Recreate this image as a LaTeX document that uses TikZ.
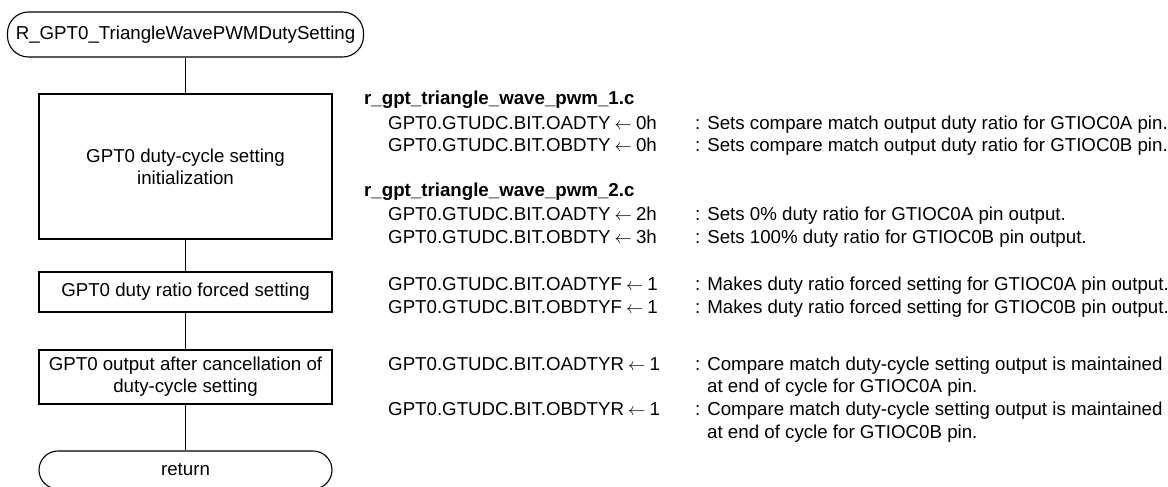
\documentclass[tikz,border=0pt]{standalone}
\usepackage{fontspec}
\setmainfont{Liberation Sans}
\newcommand{\getsarrow}{\hspace{0.22em}$\leftarrow$\hspace{0.22em}}
\begin{document}
\begin{tikzpicture}[x=1pt,y=-1pt,
  every node/.style={font=\fontsize{18.7}{21.8}\selectfont, inner sep=0pt},
  proc/.style={draw, line width=1.1pt, minimum width=293pt, align=center},
  term/.style={draw, line width=1.1pt, align=center},
  txt/.style={anchor=base west},
  hdr/.style={anchor=base west, font=\fontsize{18.7}{21.8}\selectfont\bfseries},
  link/.style={line width=1.1pt}]
\useasboundingbox (0,0) rectangle (1168,487);

% flowchart
\node[term, rounded corners=21pt, minimum width=356pt, minimum height=45pt] (start) at (185.5,34.5) {R\_GPT0\_TriangleWavePWMDutySetting};
\node[proc, minimum height=145pt] (b1) at (185.5,166.5) {GPT0 duty-cycle setting\\initialization};
\node[proc, minimum height=40pt] (b2) at (185.5,292) {GPT0 duty ratio forced setting};
\node[proc, minimum height=54pt] (b3) at (185.5,377) {GPT0 output after cancellation of\\duty-cycle setting};
\node[term, rounded corners=19pt, minimum width=293pt, minimum height=38pt] (ret) at (185.5,470) {return};

\draw[link] (start.south) -- (b1.north);
\draw[link] (b1.south) -- (b2.north);
\draw[link] (b2.south) -- (b3.north);
\draw[link] (b3.south) -- (ret.north);

% right-hand text
\node[hdr] (h1) at (364,105) {r\_gpt\_triangle\_wave\_pwm\_1.c};
\node[txt] (c1) at (388,129) {GPT0.GTUDC.BIT.OADTY\getsarrow0h};
\node[txt] (d1) at (695,129) {: Sets compare match output duty ratio for GTIOC0A pin.};
\node[txt] (c2) at (388,151.7) {GPT0.GTUDC.BIT.OBDTY\getsarrow0h};
\node[txt] (d2) at (695,151.7) {: Sets compare match output duty ratio for GTIOC0B pin.};

\node[hdr] (h2) at (364,196.7) {r\_gpt\_triangle\_wave\_pwm\_2.c};
\node[txt] (c3) at (388,220) {GPT0.GTUDC.BIT.OADTY\getsarrow2h};
\node[txt] (d3) at (695,220) {: Sets 0\% duty ratio for GTIOC0A pin output.};
\node[txt] (c4) at (388,243) {GPT0.GTUDC.BIT.OBDTY\getsarrow3h};
\node[txt] (d4) at (695,243) {: Sets 100\% duty ratio for GTIOC0B pin output.};

\node[txt] (c5) at (388,290) {GPT0.GTUDC.BIT.OADTYF\getsarrow1};
\node[txt] (d5) at (695,290) {: Makes duty ratio forced setting for GTIOC0A pin output.};
\node[txt] (c6) at (388,313) {GPT0.GTUDC.BIT.OBDTYF\getsarrow1};
\node[txt] (d6) at (695,313) {: Makes duty ratio forced setting for GTIOC0B pin output.};

\node[txt] (c7) at (388,370) {GPT0.GTUDC.BIT.OADTYR\getsarrow1};
\node[txt] (d7) at (695,370) {: Compare match duty-cycle setting output is maintained};
\node[txt] (e7) at (707,392.7) {at end of cycle for GTIOC0A pin.};
\node[txt] (c8) at (388,415) {GPT0.GTUDC.BIT.OBDTYR\getsarrow1};
\node[txt] (d8) at (695,415) {: Compare match duty-cycle setting output is maintained};
\node[txt] (e8) at (707,438) {at end of cycle for GTIOC0B pin.};
\end{tikzpicture}
\end{document}
